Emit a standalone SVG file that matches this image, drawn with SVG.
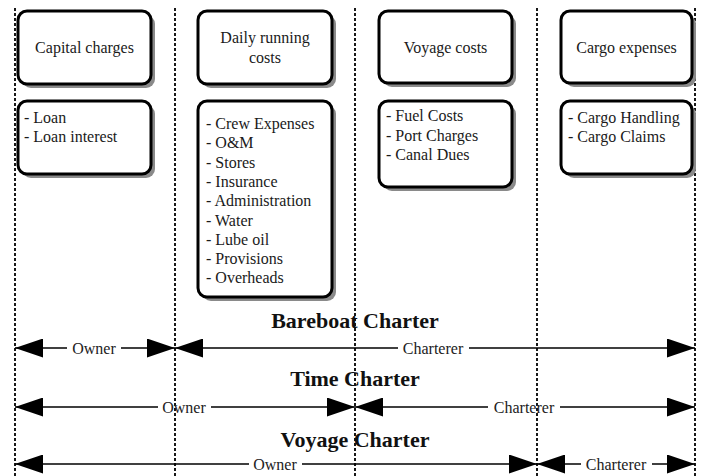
<svg xmlns="http://www.w3.org/2000/svg" width="702" height="476" viewBox="0 0 702 476">
<defs>
<style>
.box{fill:#fff;stroke:#000;stroke-width:3}
.sh{fill:#8a8a8a}
.t{font-family:"Liberation Serif","Times New Roman",serif;font-size:16px;fill:#1a1a1a}
.c{text-anchor:middle}
.h{font-family:"Liberation Serif","Times New Roman",serif;font-size:22px;font-weight:bold;fill:#111;text-anchor:middle}
.lab{font-family:"Liberation Serif","Times New Roman",serif;font-size:16px;fill:#222;text-anchor:middle}
.div{stroke:#000;stroke-width:1.8;stroke-dasharray:3 2}
.ln{stroke:#000;stroke-width:1.5;fill:none}
</style>
<marker id="ah" viewBox="0 0 28 19" refX="28" refY="9.5" markerWidth="28" markerHeight="19" markerUnits="userSpaceOnUse" orient="auto-start-reverse">
<path d="M0,0 L28,9.5 L0,19 Z" fill="#000"/>
</marker>
</defs>
<rect width="702" height="476" fill="#fff"/>
<g id="dividers">
<line class="div" x1="15" y1="8" x2="15" y2="476"/>
<line class="div" x1="175" y1="8" x2="175" y2="476"/>
<line class="div" x1="355" y1="8" x2="355" y2="476"/>
<line class="div" x1="537" y1="8" x2="537" y2="476"/>
<line class="div" x1="695" y1="8" x2="695" y2="476"/>
</g>
<g id="capital">
<rect class="sh" x="22" y="15" width="133" height="73" rx="9"/>
<rect class="box" x="18" y="11" width="133" height="73" rx="9"/>
<text class="t c" x="84.5" y="53">Capital charges</text>
</g>
<g id="capital-items">
<rect class="sh" x="22" y="105" width="133" height="73" rx="9"/>
<rect class="box" x="18" y="101" width="133" height="73" rx="9"/>
<text class="t" x="24" y="123">- Loan</text>
<text class="t" x="24" y="142">- Loan interest</text>
</g>
<g id="daily">
<rect class="sh" x="202" y="15" width="134" height="73" rx="9"/>
<rect class="box" x="198" y="11" width="134" height="73" rx="9"/>
<text class="t c" x="265" y="43">Daily running</text>
<text class="t c" x="265" y="63">costs</text>
</g>
<g id="daily-items">
<rect class="sh" x="202" y="105" width="134" height="196" rx="9"/>
<rect class="box" x="198" y="101" width="134" height="196" rx="9"/>
<text class="t" x="206" y="129">- Crew Expenses</text>
<text class="t" x="206" y="148.3">- O&amp;M</text>
<text class="t" x="206" y="167.6">- Stores</text>
<text class="t" x="206" y="186.9">- Insurance</text>
<text class="t" x="206" y="206.2">- Administration</text>
<text class="t" x="206" y="225.5">- Water</text>
<text class="t" x="206" y="244.8">- Lube oil</text>
<text class="t" x="206" y="264.1">- Provisions</text>
<text class="t" x="206" y="283.4">- Overheads</text>
</g>
<g id="voyage">
<rect class="sh" x="383" y="15" width="133" height="72" rx="9"/>
<rect class="box" x="379" y="11" width="133" height="72" rx="9"/>
<text class="t c" x="445.5" y="53">Voyage costs</text>
</g>
<g id="voyage-items">
<rect class="sh" x="383" y="105" width="133" height="86" rx="9"/>
<rect class="box" x="379" y="101" width="133" height="86" rx="9"/>
<text class="t" x="386" y="121">- Fuel Costs</text>
<text class="t" x="386" y="140.5">- Port Charges</text>
<text class="t" x="386" y="160">- Canal Dues</text>
</g>
<g id="cargo">
<rect class="sh" x="565" y="15" width="131" height="72" rx="9"/>
<rect class="box" x="561" y="11" width="131" height="72" rx="9"/>
<text class="t c" x="626.5" y="53">Cargo expenses</text>
</g>
<g id="cargo-items">
<rect class="sh" x="565" y="105" width="131" height="73" rx="9"/>
<rect class="box" x="561" y="101" width="131" height="73" rx="9"/>
<text class="t" x="568" y="123">- Cargo Handling</text>
<text class="t" x="568" y="142">- Cargo Claims</text>
</g>
<g id="titles">
<text class="h" x="355" y="328">Bareboat Charter</text>
<text class="h" x="355" y="386">Time Charter</text>
<text class="h" x="355" y="447">Voyage Charter</text>
</g>
<g id="connectors">
<line class="ln" x1="15" y1="348" x2="67" y2="348" marker-start="url(#ah)"/>
<line class="ln" x1="121" y1="348" x2="175" y2="348" marker-end="url(#ah)"/>
<text class="lab" x="94" y="353.5">Owner</text>
<line class="ln" x1="175" y1="348" x2="398" y2="348" marker-start="url(#ah)"/>
<line class="ln" x1="469" y1="348" x2="695" y2="348" marker-end="url(#ah)"/>
<text class="lab" x="433" y="353.5">Charterer</text>
<line class="ln" x1="15" y1="407" x2="158" y2="407" marker-start="url(#ah)"/>
<line class="ln" x1="211" y1="407" x2="355" y2="407" marker-end="url(#ah)"/>
<text class="lab" x="184" y="412.5">Owner</text>
<line class="ln" x1="355" y1="407" x2="488" y2="407" marker-start="url(#ah)"/>
<line class="ln" x1="560" y1="407" x2="695" y2="407" marker-end="url(#ah)"/>
<text class="lab" x="524" y="412.5">Charterer</text>
<line class="ln" x1="15" y1="464" x2="249" y2="464" marker-start="url(#ah)"/>
<line class="ln" x1="302" y1="464" x2="537" y2="464" marker-end="url(#ah)"/>
<text class="lab" x="275" y="469.5">Owner</text>
<line class="ln" x1="537" y1="464" x2="581" y2="464" marker-start="url(#ah)"/>
<line class="ln" x1="652" y1="464" x2="695" y2="464" marker-end="url(#ah)"/>
<text class="lab" x="616" y="469.5">Charterer</text>
</g>
</svg>
